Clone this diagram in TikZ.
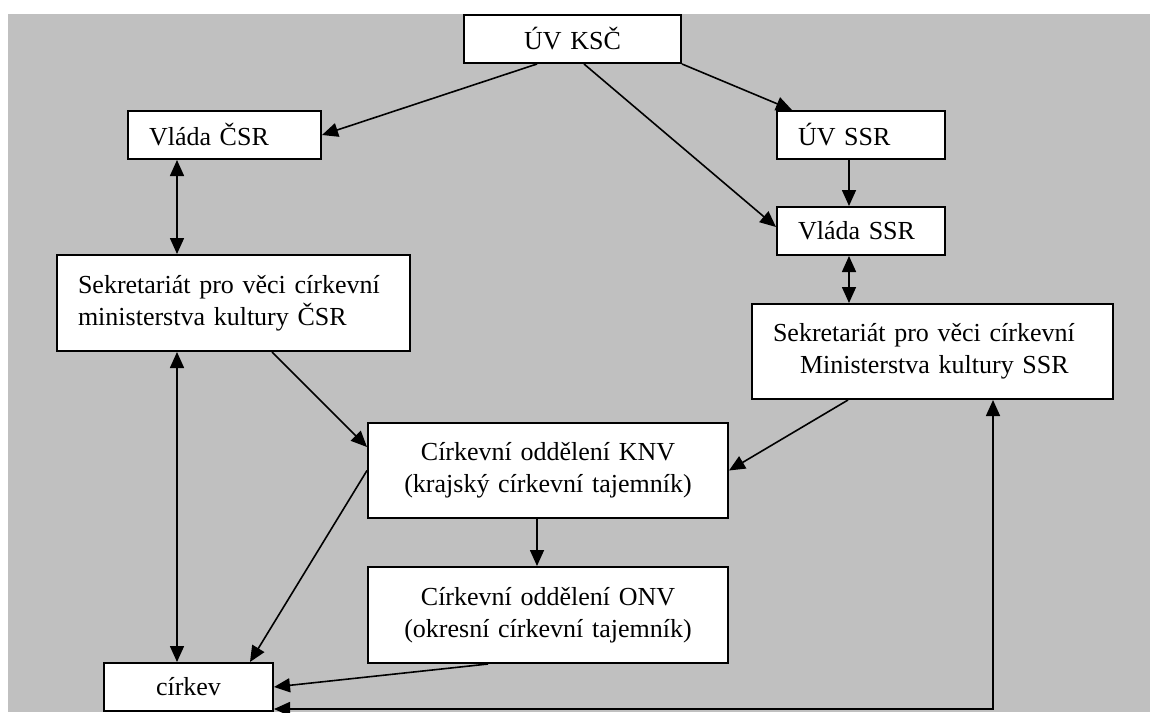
\documentclass[tikz,border=0pt]{standalone}
\usepackage{fontspec}
\setmainfont{Liberation Serif}
\usetikzlibrary{arrows.meta}

\definecolor{bggray}{RGB}{192,192,192}
\tikzset{
    box/.style={draw, fill=white, line width=1pt, inner xsep=10.5pt, inner ysep=0pt,
        font=\fontsize{13}{16}\selectfont},
    conn/.style={line width=0.8pt, -{Triangle[length=8pt, width=7pt]}},
    bothconn/.style={line width=0.8pt, {Triangle[length=8pt, width=7pt]}-{Triangle[length=8pt, width=7pt]}}
}

\begin{document}
\begin{tikzpicture}[x=0.5pt, y=-0.5pt]

            \useasboundingbox (0, 0) rectangle (1150, 712);
            \fill[bggray](8, 14) rectangle (1150, 712);

            %%boxes
            \node[box, text width=87.5pt, align=center, minimum height=24pt] at(572.5, 39)(uvksc){ÚV KSČ};
            \node[box, text width=75.5pt, align=left, minimum height=24pt] at(224.5, 135)(vladacsr){Vláda ČSR};
            \node[box, text width=63pt, align=left, minimum height=24pt] at(861, 135)(uvssr){ÚV SSR};
            \node[box, text width=63pt, align=left, minimum height=24pt] at(861, 231)(vladassr){Vláda SSR};
            \node[box, text width=155.5pt, align=left, minimum height=48pt] at(233.5, 303)(sekcsr){Sekretariát pro věci církevní\\ministerstva kultury ČSR};
            \node[box, text width=159.5pt, align=left, minimum height=47.5pt] at(932.5, 351.5)(sekssr){Sekretariát pro věci církevní\\\hspace*{13.5pt}Ministerstva kultury SSR};
            \node[box, text width=159pt, align=center, minimum height=47.5pt] at(548, 470.5)(knv){Církevní oddělení KNV\\(krajský církevní tajemník)};
            \node[box, text width=159pt, align=center, minimum height=48pt] at(548, 615)(onv){Církevní oddělení ONV\\(okresní církevní tajemník)};
            \node[box, text width=63.5pt, align=center, minimum height=24pt] at(188.5, 687)(cirkev){církev};

            %%arrows
            \draw[conn]([xshift=-17.75pt]uvksc.south) to (vladacsr.east);
            \draw[conn]([xshift=5.75pt]uvksc.south) to ([yshift=2pt]vladassr.west);
            \draw[conn](uvksc.south east) to ([xshift=8pt]uvssr.north west);
            \draw[conn]([xshift=-6pt]uvssr.south) to ([xshift=-6pt]vladassr.north);

            \draw[bothconn]([xshift=-23.75pt]vladacsr.south) to ([xshift=-28.25pt]sekcsr.north);
            \draw[bothconn]([xshift=-6pt]vladassr.south) to ([xshift=-41.75pt]sekssr.north);

            \draw[conn]([xshift=19.25pt]sekcsr.south) to ([yshift=11.75pt]knv.west);
            \draw[conn]([xshift=-42.25pt]sekssr.south) to (knv.east);
            \draw[bothconn]([xshift=-28.25pt]sekcsr.south) to ([xshift=-5.75pt]cirkev.north);

            \draw[conn](knv.west) to ([xshift=30.75pt]cirkev.north);
            \draw[conn]([xshift=-5.5pt]knv.south) to ([xshift=-5.5pt]onv.north);
            \draw[conn]([xshift=-30pt]onv.south) to (cirkev.east);
            \draw[bothconn]([yshift=-11pt]cirkev.east) -| ([xshift=30.25pt]sekssr.south);
        \end{tikzpicture}
\end{document}
